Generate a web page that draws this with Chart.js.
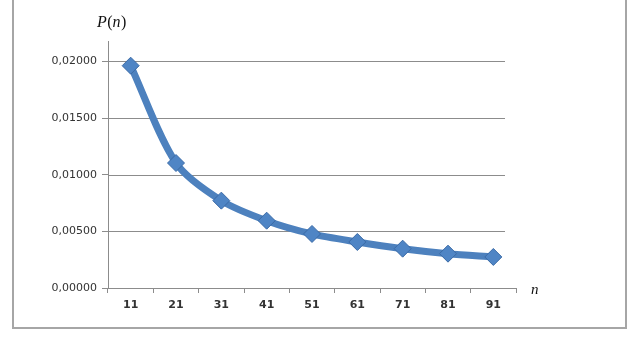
<!DOCTYPE html>
<html>
<head>
<meta charset="utf-8">
<script src="https://cdn.jsdelivr.net/npm/chart.js@4/dist/chart.umd.min.js"></script>
<style>
  html, body { margin: 0; padding: 0; background: #ffffff; }
  #wrap { position: relative; width: 636px; height: 339px; overflow: hidden; }
  #frame { position: absolute; left: 12px; top: -3px; width: 615px; height: 332px;
           border: 2px solid #a6a6a6; box-sizing: border-box; pointer-events: none; }
  canvas { position: absolute; left: 0; top: 0; }
</style>
</head>
<body>
<div id="wrap">
  <canvas id="c" width="636" height="339"></canvas>
  <div id="frame"></div>
</div>
<script>
// n values on the horizontal axis
const categories = ['11', '21', '31', '41', '51', '61', '71', '81', '91'];
// P(n) for each n
const pValues = [0.01962, 0.01103, 0.00771, 0.00594, 0.00477, 0.00406, 0.00347, 0.00303, 0.00274];
// labelled values on the vertical axis
const yTickValues = [0, 0.005, 0.01, 0.015, 0.02];

const fmt = v => v.toFixed(5).replace('.', ',');

// horizontal grid lines stop a little short of the category axis end
const valueGrid = {
  id: 'valueGrid',
  beforeDatasetsDraw(chart) {
    const ctx = chart.ctx;
    const a = chart.chartArea;
    const y = chart.scales.y;
    ctx.save();
    ctx.strokeStyle = '#8c8c8c';
    ctx.lineWidth = 1;
    for (const v of yTickValues) {
      if (v === 0) continue;
      const py = Math.round(y.getPixelForValue(v)) + 0.5;
      ctx.beginPath();
      ctx.moveTo(a.left, py);
      ctx.lineTo(a.right - 11, py);
      ctx.stroke();
    }
    ctx.restore();
  }
};

// axis captions: P(n) above the value axis, n at the end of the category axis
const axisCaptions = {
  id: 'axisCaptions',
  afterDraw(chart) {
    const ctx = chart.ctx;
    const a = chart.chartArea;
    ctx.save();
    ctx.fillStyle = '#111';
    ctx.textBaseline = 'alphabetic';
    const parts = [['P', true], ['(', false], ['n', true], [')', false]];
    let x = a.left - 11;
    const y = 27;
    for (const [t, it] of parts) {
      ctx.font = (it ? 'italic ' : '') + '16px "Liberation Serif", "DejaVu Serif", serif';
      ctx.fillText(t, x, y);
      x += ctx.measureText(t).width + (it ? 0.5 : 0);
    }
    ctx.font = 'italic 15px "Liberation Serif", "DejaVu Serif", serif';
    const yb = chart.scales.y.getPixelForValue(0);
    ctx.fillText('n', a.right + 15, yb + 6);
    ctx.restore();
  }
};

new Chart(document.getElementById('c'), {
  type: 'line',
  data: {
    labels: categories,
    datasets: [{
      data: pValues,
      borderColor: '#4d81be',
      borderWidth: 7,
      borderCapStyle: 'round',
      borderJoinStyle: 'round',
      tension: 0.3,
      pointStyle: 'rectRot',
      pointRadius: 8.5,
      pointBackgroundColor: '#4f85c5',
      pointBorderColor: '#3a6aa6',
      pointBorderWidth: 1,
      fill: false
    }]
  },
  options: {
    responsive: false,
    animation: false,
    events: [],
    layout: { padding: { left: 0, right: 120, top: 41, bottom: 0 } },
    plugins: {
      legend: { display: false },
      tooltip: { enabled: false }
    },
    scales: {
      x: {
        offset: true,
        afterFit(s) { s.height = 51; },
        grid: {
          offset: true,
          drawOnChartArea: false,
          drawTicks: true,
          tickLength: 5,
          color: '#8c8c8c',
          lineWidth: 1
        },
        border: { color: '#8c8c8c', width: 1 },
        ticks: {
          color: '#333',
          padding: 6,
          maxRotation: 0,
          font: { family: '"DejaVu Sans", sans-serif', size: 11, weight: 'bold' }
        }
      },
      y: {
        min: 0,
        max: 0.0218,
        afterFit(s) { s.width = 108; },
        afterBuildTicks(s) { s.ticks = yTickValues.map(v => ({ value: v })); },
        grid: {
          color: '#8c8c8c',
          lineWidth: 1,
          drawOnChartArea: false,
          drawTicks: true,
          tickLength: 6
        },
        border: { color: '#8c8c8c', width: 1 },
        ticks: {
          color: '#333',
          padding: 5,
          callback: v => fmt(v),
          font: { family: '"DejaVu Sans", sans-serif', size: 11 }
        }
      }
    }
  },
  plugins: [valueGrid, axisCaptions]
});
</script>
</body>
</html>
